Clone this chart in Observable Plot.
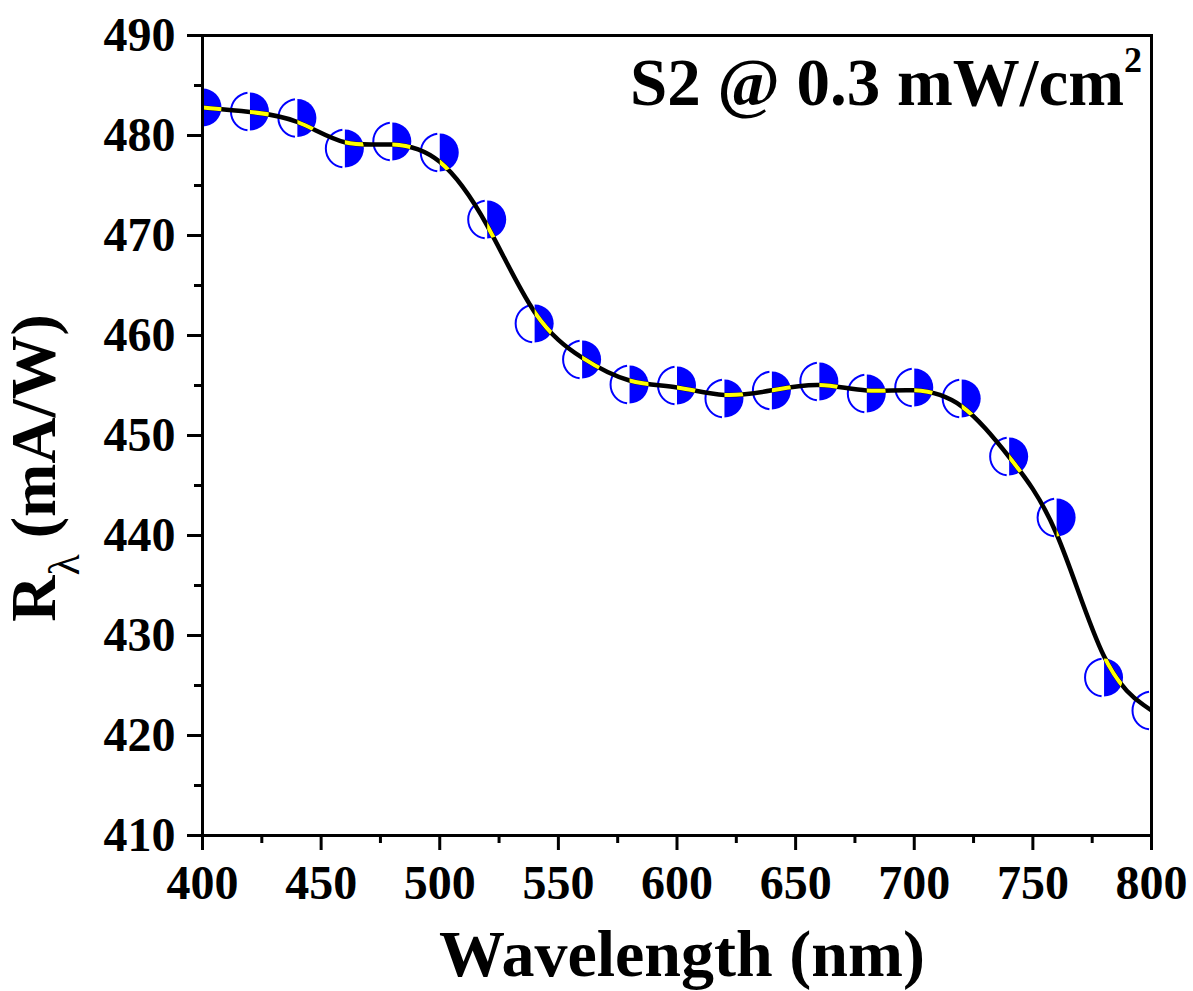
<!DOCTYPE html>
<html>
<head>
<meta charset="utf-8">
<script src="https://cdn.jsdelivr.net/npm/d3@7"></script>
<script src="https://cdn.jsdelivr.net/npm/@observablehq/plot@0.6"></script>
<style>
  html, body { margin: 0; padding: 0; background: #fff; }
  #chart svg { display: block; }
</style>
</head>
<body>
<div id="chart"></div>
<script>
// Spectral responsivity of sample S2 under 0.3 mW/cm² illumination
const wavelength = [400, 420, 440, 460, 480, 500, 520, 540, 560, 580, 600,
                    620, 640, 660, 680, 700, 720, 740, 760, 780, 800];
const responsivity = [482.8, 482.4, 481.75, 478.7, 479.4, 478.3, 471.6, 461.2, 457.6, 455.1, 455.0,
                      453.7, 454.5, 455.4, 454.2, 454.8, 453.7, 447.9, 441.8, 425.8, 422.5];

const xMajorTicks = [400, 450, 500, 550, 600, 650, 700, 750, 800];
const xMinorTicks = [425, 475, 525, 575, 625, 675, 725, 775];
const yMajorTicks = [410, 420, 430, 440, 450, 460, 470, 480, 490];
const yMinorTicks = [415, 425, 435, 445, 455, 465, 475, 485];

const points = wavelength.map((w, i) => ({w, r: responsivity[i]}));

const BLUE = "#0000ff";
const FONT = "'Liberation Serif', 'Times New Roman', serif";

// Half-filled circle marker: right half solid, left half an open arc
const rightHalf = {
  draw(ctx, size) {
    const r = Math.sqrt(size / Math.PI);
    ctx.moveTo(0, -r);
    ctx.arc(0, 0, r, -Math.PI / 2, Math.PI / 2);
    ctx.closePath();
  }
};
const leftArc = {
  draw(ctx, size) {
    const r = Math.sqrt(size / Math.PI);
    const g = 0.13;
    const a0 = -Math.PI / 2 - g, a1 = Math.PI / 2 + g;
    ctx.moveTo(r * Math.cos(a0), r * Math.sin(a0));
    ctx.arc(0, 0, r, a0, a1, true);
  }
};

const chart = Plot.plot({
  width: 1193,
  height: 991,
  marginLeft: 202,
  marginRight: 42,
  marginTop: 35,
  marginBottom: 156,
  x: {domain: [400, 800]},
  y: {domain: [410, 490]},
  style: {
    fontFamily: FONT,
    fontWeight: "bold",
    fontSize: "48px",
    background: "white",
    color: "black",
    overflow: "visible"
  },
  marks: [
    Plot.dot(points, {x: "w", y: "r", r: 19, symbol: leftArc, fill: "none", stroke: BLUE, strokeWidth: 2, clip: true}),
    Plot.dot(points, {x: "w", y: "r", r: 19, symbol: rightHalf, fill: BLUE, stroke: "none", clip: true}),
    // B-spline through the measurements
    Plot.line(points, {x: "w", y: "r", curve: "basis", stroke: "black", strokeWidth: 4.5, clip: true}),
    Plot.frame({stroke: "black", strokeWidth: 3}),
    Plot.axisX({ticks: xMajorTicks, tickSize: 15, tickPadding: 14, strokeWidth: 3, label: null,
                tickFormat: d => String(d)}),
    Plot.axisX({ticks: xMinorTicks, tickSize: 8, strokeWidth: 3, text: null, label: null}),
    Plot.axisY({ticks: yMajorTicks, tickSize: 15, tickPadding: 12, strokeWidth: 3, label: null,
                tickFormat: d => String(d)}),
    Plot.axisY({ticks: yMinorTicks, tickSize: 8, strokeWidth: 3, text: null, label: null})
  ]
});

document.getElementById("chart").appendChild(chart);

const svg = d3.select(chart);

// Where the curve crosses a solid half-marker it is shown in yellow
const dotGroups = svg.selectAll("g[aria-label='dot']").nodes();
const lineGroup = svg.select("g[aria-label='line']").node();
if (dotGroups.length > 1 && lineGroup) {
  const clip = svg.append("defs").append("clipPath").attr("id", "solid-halves");
  d3.select(dotGroups[1]).selectAll("path").each(function () {
    clip.node().appendChild(this.cloneNode(true));
  });
  const linePath = d3.select(lineGroup).select("path").node();
  if (linePath) {
    const inner = linePath.cloneNode(true);
    inner.setAttribute("stroke", "#ffff00");
    inner.setAttribute("stroke-width", "4");
    inner.setAttribute("clip-path", "url(#solid-halves)");
    linePath.parentNode.appendChild(inner);
  }
}

// Panel title with superscript
const title = svg.append("text")
  .attr("x", 1142).attr("y", 105)
  .attr("text-anchor", "end")
  .style("font-family", FONT).style("font-weight", "bold").style("font-size", "67px")
  .attr("fill", "black");
title.append("tspan").text("S2 @ 0.3 mW/cm");
title.append("tspan").attr("dy", -33).style("font-size", "36px").text("2");

// X axis title
svg.append("text")
  .attr("x", 682).attr("y", 976)
  .attr("text-anchor", "middle")
  .style("font-family", FONT).style("font-weight", "bold").style("font-size", "66px")
  .attr("fill", "black")
  .text("Wavelength (nm)");

// Y axis title: R with subscript lambda
const ylab = svg.append("text")
  .attr("transform", "translate(55,468) rotate(-90)")
  .attr("text-anchor", "middle")
  .style("font-family", FONT).style("font-weight", "bold").style("font-size", "64px")
  .attr("fill", "black");
ylab.append("tspan").text("R");
ylab.append("tspan").attr("dy", 24).style("font-size", "44px").style("font-weight", "normal").text("λ");
ylab.append("tspan").attr("dy", -24).text(" (mA/W)");
</script>
</body>
</html>
